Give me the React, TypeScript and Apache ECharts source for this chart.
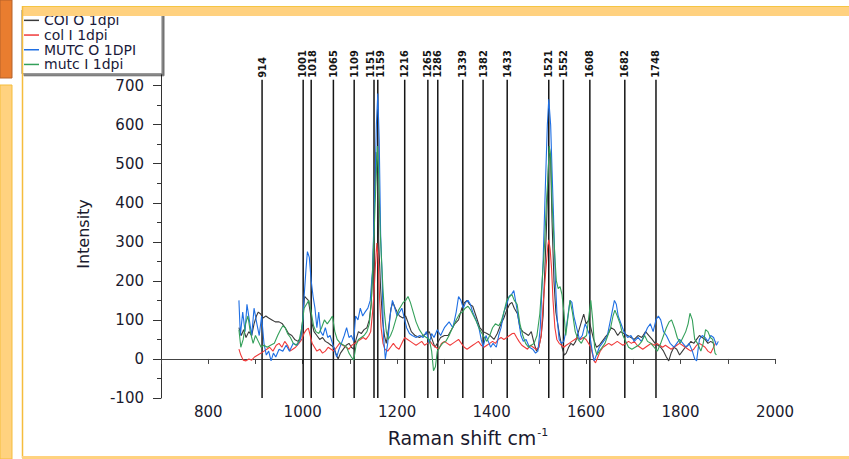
import React, { useEffect, useRef } from "react";
import * as echarts from "echarts";

// ---- data (Raman shift cm-1, intensity) ----
const seriesNames = ["COI O 1dpi", "col I 1dpi", "MUTC O 1DPI", "mutc I 1dpi"];
const seriesColors = ["#3a3a3a", "#f03a3a", "#1f6fe3", "#34a05a"];

const coiO: number[][] = [
  [865,80],[870,60],[875,75],[880,55],[886,70],[892,60],[897,90],[902,110],[906,120],[911,115],[916,105],[922,110],[928,105],[935,100],[942,95],[950,95],[957,90],[963,80],[970,65],[977,60],[983,50],[990,45],[996,55],[1000,100],[1004,160],[1008,155],[1012,150],[1016,120],[1020,90],[1024,70],[1030,60],[1036,50],[1042,55],[1048,45],[1055,40],[1060,35],[1066,30],[1070,15],[1075,0],[1080,15],[1086,25],[1092,35],[1098,40],[1103,30],[1108,25],[1113,50],[1118,70],[1124,65],[1130,75],[1136,80],[1141,100],[1145,140],[1149,250],[1152,400],[1155,530],[1158,470],[1161,300],[1165,180],[1169,100],[1173,60],[1177,40],[1182,80],[1187,130],[1191,145],[1196,130],[1200,120],[1205,110],[1212,105],[1218,110],[1224,90],[1230,70],[1238,60],[1247,55],[1255,60],[1262,65],[1268,70],[1274,50],[1280,30],[1285,40],[1292,55],[1300,60],[1308,60],[1315,75],[1322,90],[1330,100],[1337,130],[1343,145],[1348,150],[1353,140],[1360,135],[1367,110],[1375,80],[1382,70],[1390,65],[1397,60],[1405,50],[1412,65],[1420,90],[1426,105],[1432,125],[1438,140],[1443,145],[1448,130],[1455,115],[1460,80],[1466,70],[1472,65],[1478,60],[1484,70],[1490,40],[1495,20],[1500,30],[1505,60],[1509,110],[1513,240],[1516,330],[1519,450],[1522,545],[1525,510],[1528,350],[1532,200],[1536,120],[1540,90],[1544,60],[1549,30],[1554,10],[1558,15],[1563,30],[1568,40],[1573,35],[1578,45],[1584,70],[1590,95],[1595,115],[1600,90],[1606,100],[1611,75],[1616,50],[1622,30],[1628,35],[1634,45],[1640,55],[1647,65],[1653,80],[1660,75],[1667,60],[1673,70],[1680,65],[1688,60],[1695,55],[1702,50],[1710,60],[1718,55],[1726,70],[1733,60],[1740,50],[1746,40],[1752,35],[1758,30],[1764,20],[1770,5],[1775,-5],[1780,15],[1786,30],[1792,25],[1798,10],[1804,20],[1810,30],[1816,35],[1822,45],[1828,40],[1834,50],[1840,60],[1846,55],[1852,50],[1858,40],[1864,45],[1870,40]
];

const colI: number[][] = [
  [865,25],[869,10],[874,-3],[880,-5],[886,0],[892,-3],[898,5],[905,10],[912,15],[918,20],[924,25],[930,30],[937,20],[944,35],[950,40],[956,30],[962,45],[968,35],[973,20],[979,25],[985,30],[992,40],[998,50],[1003,66],[1008,75],[1012,79],[1016,60],[1020,40],[1025,30],[1030,20],[1036,25],[1042,15],[1048,20],[1054,30],[1060,25],[1066,20],[1072,30],[1078,40],[1085,35],[1092,30],[1098,25],[1104,35],[1110,40],[1116,45],[1122,50],[1128,55],[1134,50],[1140,60],[1144,70],[1148,120],[1151,170],[1154,240],[1157,297],[1160,250],[1163,150],[1166,80],[1170,40],[1174,25],[1180,20],[1186,30],[1192,40],[1198,30],[1204,25],[1210,40],[1216,55],[1222,50],[1228,45],[1234,40],[1240,35],[1246,40],[1252,45],[1258,35],[1264,40],[1270,45],[1276,35],[1282,30],[1288,25],[1294,40],[1300,45],[1306,40],[1312,35],[1318,40],[1324,45],[1330,50],[1336,40],[1342,30],[1348,25],[1354,30],[1360,35],[1366,40],[1372,45],[1378,35],[1384,30],[1390,35],[1396,40],[1402,45],[1408,40],[1414,50],[1420,55],[1426,50],[1432,55],[1438,60],[1444,65],[1448,66],[1453,55],[1458,45],[1464,35],[1470,30],[1476,25],[1482,35],[1488,30],[1494,25],[1500,30],[1505,60],[1509,140],[1513,200],[1516,246],[1519,290],[1521,305],[1524,280],[1527,230],[1530,150],[1534,80],[1538,50],[1543,40],[1548,35],[1553,30],[1558,35],[1564,40],[1570,45],[1576,50],[1582,55],[1588,50],[1594,55],[1600,50],[1605,40],[1610,30],[1614,10],[1617,-5],[1620,-10],[1625,5],[1630,20],[1636,30],[1642,35],[1648,40],[1654,35],[1660,40],[1666,45],[1672,40],[1678,35],[1684,40],[1690,45],[1696,40],[1702,45],[1708,35],[1714,30],[1720,25],[1726,30],[1732,35],[1738,40],[1744,35],[1750,40],[1756,35],[1762,30],[1768,35],[1774,30],[1780,25],[1786,30],[1792,35],[1798,40],[1804,35],[1810,30],[1816,25],[1822,20],[1828,25],[1834,35],[1840,40],[1846,35],[1852,30],[1858,20],[1864,15],[1870,30],[1875,45]
];

const mutcO: number[][] = [
  [865,150],[868,60],[873,120],[878,70],[882,140],[887,100],[892,60],[897,130],[903,90],[908,60],[913,110],[918,40],[923,10],[928,20],[933,-5],[938,15],[943,5],[950,25],[958,20],[965,35],[972,20],[980,40],[988,35],[995,50],[1000,90],[1003,160],[1007,230],[1010,275],[1014,260],[1018,200],[1022,160],[1026,130],[1030,80],[1034,120],[1038,70],[1043,60],[1048,80],[1053,55],[1058,60],[1063,40],[1068,20],[1072,5],[1077,25],[1082,40],[1088,60],[1093,80],[1098,55],[1103,60],[1108,45],[1112,110],[1117,100],[1122,130],[1127,110],[1132,120],[1138,130],[1143,150],[1148,230],[1152,400],[1156,600],[1159,680],[1162,560],[1165,320],[1168,220],[1171,60],[1175,0],[1180,40],[1185,110],[1190,150],[1195,130],[1200,110],[1205,120],[1210,130],[1215,105],[1220,80],[1226,65],[1232,60],[1240,55],[1248,60],[1255,55],[1262,70],[1268,40],[1273,65],[1278,55],[1285,75],[1292,60],[1300,80],[1310,95],[1318,80],[1325,120],[1330,160],[1335,150],[1340,130],[1345,145],[1350,150],[1355,140],[1360,120],[1367,100],[1373,80],[1378,50],[1382,30],[1388,60],[1393,45],[1398,30],[1403,40],[1410,30],[1415,60],[1420,80],[1426,120],[1432,140],[1437,160],[1442,165],[1447,175],[1452,140],[1457,100],[1462,60],[1467,45],[1473,50],[1480,30],[1487,25],[1493,15],[1498,20],[1503,80],[1509,250],[1514,450],[1518,600],[1521,665],[1525,600],[1528,480],[1531,370],[1535,200],[1539,100],[1543,50],[1548,40],[1553,45],[1557,70],[1562,115],[1566,150],[1570,145],[1574,110],[1580,80],[1586,50],[1592,60],[1598,90],[1603,75],[1608,60],[1613,20],[1617,-5],[1622,10],[1628,30],[1634,40],[1640,50],[1645,60],[1650,90],[1655,120],[1660,150],[1664,140],[1668,110],[1674,90],[1680,70],[1688,55],[1695,60],[1702,45],[1710,55],[1717,45],[1723,60],[1730,80],[1736,90],[1742,70],[1748,100],[1753,110],[1758,100],[1764,70],[1770,60],[1778,40],[1786,30],[1792,40],[1798,50],[1805,40],[1812,30],[1818,40],[1825,20],[1830,0],[1834,-5],[1840,50],[1846,60],[1852,55],[1858,45],[1864,60],[1870,55],[1876,35],[1880,45]
];

const mutcI: number[][] = [
  [865,75],[869,30],[874,50],[879,90],[884,110],[889,70],[895,40],[900,60],[906,45],[912,30],[918,35],[925,30],[932,35],[940,40],[947,60],[953,75],[958,85],[963,80],[968,65],[974,55],[980,40],[986,35],[992,45],[998,80],[1003,130],[1008,140],[1013,150],[1018,120],[1023,85],[1028,70],[1034,65],[1040,80],[1046,100],[1052,90],[1058,100],[1063,110],[1068,70],[1073,50],[1080,40],[1087,35],[1093,30],[1098,15],[1103,5],[1108,-3],[1113,35],[1118,50],[1124,55],[1130,60],[1136,70],[1141,90],[1145,140],[1149,250],[1152,350],[1155,450],[1158,545],[1161,470],[1164,330],[1167,250],[1170,180],[1173,120],[1177,70],[1181,50],[1186,60],[1191,75],[1197,100],[1203,125],[1208,135],[1213,145],[1218,150],[1223,160],[1228,145],[1234,120],[1240,95],[1247,75],[1255,60],[1262,55],[1268,50],[1273,20],[1277,-30],[1281,-20],[1285,20],[1290,30],[1296,40],[1303,45],[1310,60],[1317,80],[1325,100],[1332,115],[1338,120],[1344,130],[1350,135],[1356,125],[1362,110],[1368,95],[1375,75],[1382,60],[1390,45],[1396,60],[1402,80],[1408,90],[1415,85],[1420,95],[1426,120],[1432,150],[1438,160],[1443,165],[1448,150],[1454,140],[1460,90],[1466,60],[1472,40],[1478,30],[1484,35],[1490,40],[1496,60],[1502,115],[1507,200],[1512,290],[1516,400],[1519,460],[1522,545],[1525,520],[1528,400],[1531,330],[1534,260],[1537,200],[1541,180],[1545,185],[1549,165],[1553,120],[1557,60],[1562,110],[1566,150],[1571,120],[1577,70],[1583,50],[1590,40],[1596,55],[1601,60],[1606,110],[1610,150],[1614,100],[1618,30],[1623,10],[1628,20],[1634,30],[1640,40],[1646,60],[1652,80],[1657,110],[1661,125],[1666,110],[1672,90],[1678,60],[1684,45],[1690,30],[1697,25],[1704,30],[1711,35],[1718,45],[1724,60],[1730,45],[1737,40],[1744,30],[1751,20],[1758,40],[1764,60],[1770,80],[1776,95],[1781,100],[1787,80],[1793,55],[1799,40],[1805,55],[1811,70],[1816,90],[1820,117],[1825,100],[1830,50],[1836,40],[1843,20],[1848,40],[1853,75],[1858,70],[1863,55],[1868,50],[1873,15],[1876,10]
];

// marked peak positions
const peaks = [914, 1001, 1018, 1065, 1109, 1151, 1159, 1216, 1265, 1286, 1339, 1382, 1433, 1521, 1552, 1608, 1682, 1748];
const peakTop = 715;

const yTickValues = [-100, 0, 100, 200, 300, 400, 500, 600, 700];

const AXIS_FONT = "DejaVu Sans";
const PEAK_FONT = 'bold 11px "Liberation Sans Narrow", "DejaVu Sans Condensed", sans-serif';
const MIN_LABEL_GAP = 10;

export default function App() {
  const ref = useRef<HTMLDivElement>(null);

  useEffect(() => {
    document.body.style.margin = "0";
    const chart = echarts.init(ref.current!, undefined, { renderer: "svg" });
    const lineSeries = [coiO, colI, mutcO, mutcI].map((d, i) => ({
      name: seriesNames[i],
      type: "line",
      data: d,
      symbol: "none",
      showSymbol: false,
      z: 3,
      lineStyle: { color: seriesColors[i], width: 1.1 },
      itemStyle: { color: seriesColors[i] },
      clip: false,
    }));
    const option: any = {
      animation: false,
      backgroundColor: "#ffffff",
      grid: { left: 161, right: 74, top: 70, bottom: 61 },
      legend: {
        data: seriesNames,
        orient: "vertical",
        left: 22,
        top: 10,
        icon: "rect",
        itemWidth: 15,
        itemHeight: 1.5,
        itemGap: 0,
        padding: [3, 26, 2, 2],
        backgroundColor: "#ffffff",
        borderColor: "#777",
        borderWidth: 1,
        shadowColor: "rgba(0,0,0,0.55)",
        shadowOffsetX: 2,
        shadowOffsetY: 2,
        shadowBlur: 0,
        textStyle: { fontFamily: AXIS_FONT, fontSize: 14, color: "#1a1a3a", lineHeight: 14.7 },
        z: 20,
      },
      xAxis: {
        type: "value",
        min: 700,
        max: 2000,
        interval: 100,
        name: "{a|Raman shift cm}{b|-1}",
        nameLocation: "middle",
        nameGap: 29,
        nameTextStyle: {
          rich: {
            a: { fontFamily: AXIS_FONT, fontSize: 19, color: "#1a1a2e" },
            b: { fontFamily: AXIS_FONT, fontSize: 11, color: "#1a1a2e", padding: [0, 0, 11, 1] },
          },
        },
        splitLine: { show: false },
        axisLine: { lineStyle: { color: "#444", width: 1 } },
        axisTick: { length: 5, lineStyle: { color: "#444" } },
        axisLabel: {
          margin: 6,
          fontFamily: AXIS_FONT,
          fontSize: 15,
          color: "#1a1a2e",
          formatter: (v: number) => (v % 200 === 0 ? String(v) : ""),
        },
      },
      yAxis: {
        type: "value",
        min: -100,
        max: 740,
        interval: 100,
        name: "Intensity",
        nameLocation: "middle",
        nameGap: 70,
        nameTextStyle: { fontFamily: AXIS_FONT, fontSize: 16, color: "#1a1a2e" },
        splitLine: { show: false },
        axisLine: { show: true, lineStyle: { color: "#333", width: 1 } },
        axisTick: { length: 8, lineStyle: { color: "#333" }, customValues: yTickValues },
        minorTick: { show: true, splitNumber: 2, length: 4, lineStyle: { color: "#333" } },
        axisLabel: {
          margin: 17,
          fontFamily: AXIS_FONT,
          fontSize: 15,
          color: "#1a1a2e",
          formatter: (v: number) => (v > 700 ? "" : String(v)),
        },
      },
      series: [
        {
          name: "peaks",
          type: "custom",
          clip: false,
          silent: true,
          z: 1,
          data: peaks.map((p) => [p, peakTop]),
          encode: { x: 0, y: 1 },
          renderItem: (params: any, api: any) => {
            const i = params.dataIndex;
            const w = api.value(0);
            const top = api.coord([w, peakTop]);
            const bot = api.coord([w, -100]);
            // nudge labels apart when neighbouring peak lines are very close
            let shift = 0;
            if (i > 0) {
              const d = top[0] - api.coord([peaks[i - 1], peakTop])[0];
              if (d < MIN_LABEL_GAP) shift += (MIN_LABEL_GAP - d) / 2;
            }
            if (i < peaks.length - 1) {
              const d = api.coord([peaks[i + 1], peakTop])[0] - top[0];
              if (d < MIN_LABEL_GAP) shift -= (MIN_LABEL_GAP - d) / 2;
            }
            return {
              type: "group",
              children: [
                {
                  type: "line",
                  shape: { x1: top[0], y1: top[1], x2: bot[0], y2: bot[1] },
                  style: { stroke: "#151515", lineWidth: 1.5 },
                },
                {
                  type: "text",
                  x: top[0] + shift,
                  y: top[1] - 2,
                  rotation: Math.PI / 2,
                  style: {
                    text: String(w),
                    align: "left",
                    verticalAlign: "middle",
                    font: PEAK_FONT,
                    fill: "#151515",
                  },
                },
              ],
            };
          },
        },
        ...lineSeries,
      ],
      graphic: [
        { type: "rect", z: 100, shape: { x: 0, y: 0, width: 12, height: 78 }, style: { fill: "#E97D2F", stroke: "#B5622A", lineWidth: 1 } },
        { type: "rect", z: 100, shape: { x: 0, y: 85, width: 12, height: 374 }, style: { fill: "#FFD27F", stroke: "#F5BD3C", lineWidth: 1 } },
        { type: "rect", z: 100, shape: { x: 22, y: 6, width: 827, height: 10 }, style: { fill: "#FFD17F" } },
        { type: "line", z: 100, shape: { x1: 22, y1: 6.5, x2: 849, y2: 6.5 }, style: { stroke: "#F5C542", lineWidth: 1 } },
        { type: "line", z: 100, shape: { x1: 22.5, y1: 6, x2: 22.5, y2: 458 }, style: { stroke: "#F5BD3C", lineWidth: 1.5 } },
        { type: "rect", z: 100, shape: { x: 22, y: 456, width: 827, height: 3 }, style: { fill: "#FFD27F" } },
      ],
    };
    chart.setOption(option);
    return () => chart.dispose();
  }, []);

  return (
    <div
      ref={ref}
      style={{ position: "fixed", left: 0, top: 0, width: 849, height: 459 }}
    />
  );
}
